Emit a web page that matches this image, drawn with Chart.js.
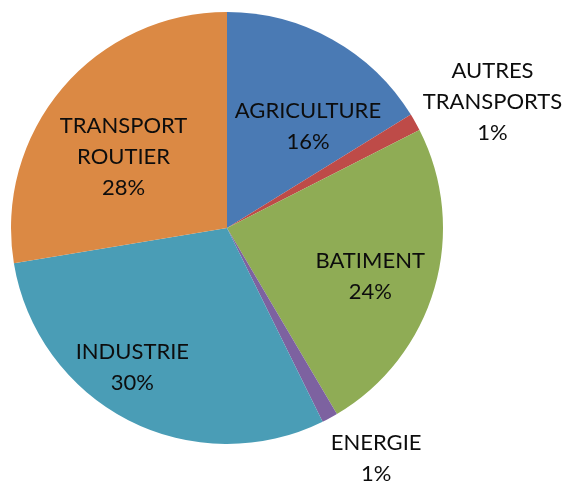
<!DOCTYPE html>
<html>
<head>
<meta charset="utf-8">
<script src="https://cdn.jsdelivr.net/npm/chart.js@4"></script>
<style>
  html, body { margin: 0; padding: 0; background: #ffffff; }
  #wrap { width: 566px; height: 482px; position: relative; }
</style>
</head>
<body>
<div id="wrap"><canvas id="c" width="566" height="482"></canvas></div>
<script>
// ---- data ----
const categories = ["AGRICULTURE", "AUTRES TRANSPORTS", "BATIMENT", "ENERGIE", "INDUSTRIE", "TRANSPORT ROUTIER"];
const labelLines = [["AGRICULTURE"], ["AUTRES", "TRANSPORTS"], ["BATIMENT"], ["ENERGIE"], ["INDUSTRIE"], ["TRANSPORT", "ROUTIER"]];
const shares = [16.2, 1.3, 24.0, 1.2, 29.7, 27.6];
const colors = ["#4A7AB4", "#BE4B48", "#8FAC55", "#7D62A0", "#4A9DB6", "#DB8944"];

// label placement style: [radius fraction of outer radius, angle offset in degrees]
const labelPlacement = [[0.60, 9.5], [1.36, 4], [0.70, 2.5], [1.27, -4.5], [0.78, 7], [0.58, -6]];

const FONT = "Lato, 'Open Sans', sans-serif";
const FONT_SIZE = 22;
const LINE_H = 31;

const labelPlugin = {
  id: 'sliceLabels',
  afterDatasetsDraw(chart) {
    const ctx = chart.ctx;
    const meta = chart.getDatasetMeta(0);
    const total = shares.reduce((a, b) => a + b, 0);
    ctx.save();
    ctx.font = FONT_SIZE + "px " + FONT;
    ctx.fillStyle = "#0d0d0d";
    ctx.textAlign = "center";
    ctx.textBaseline = "middle";
    meta.data.forEach((arc, i) => {
      const p = arc.getProps(['x', 'y', 'startAngle', 'endAngle', 'outerRadius'], true);
      const [rf, off] = labelPlacement[i];
      const mid = (p.startAngle + p.endAngle) / 2 + off * Math.PI / 180;
      const r = p.outerRadius * rf;
      const cx = p.x + Math.cos(mid) * r;
      const cy = p.y + Math.sin(mid) * r;
      const lines = labelLines[i].concat([Math.round(shares[i] / total * 100) + "%"]);
      const h = (lines.length - 1) * LINE_H;
      lines.forEach((t, k) => {
        ctx.fillText(t, cx, cy - h / 2 + k * LINE_H);
      });
    });
    ctx.restore();
  }
};

new Chart(document.getElementById('c'), {
  type: 'pie',
  data: {
    labels: categories,
    datasets: [{
      data: shares,
      backgroundColor: colors,
      borderWidth: 0
    }]
  },
  options: {
    responsive: false,
    animation: false,
    layout: { padding: { left: 11, right: 123, top: 12, bottom: 38 } },
    plugins: {
      legend: { display: false },
      tooltip: { enabled: false },
      title: { display: false }
    }
  },
  plugins: [labelPlugin]
});
</script>
</body>
</html>
